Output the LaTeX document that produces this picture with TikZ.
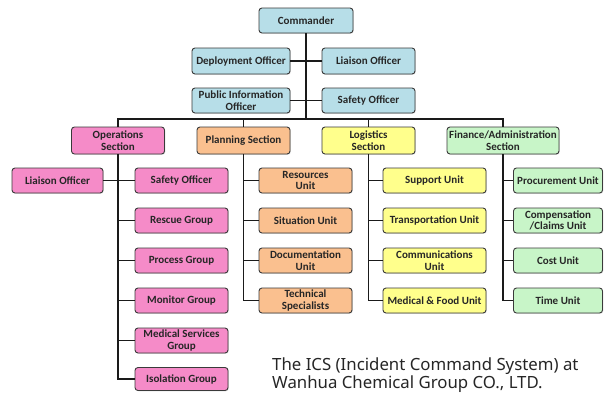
\documentclass[tikz,border=0pt]{standalone}
\usepackage{fontspec}
\newfontfamily\boxfont{Carlito}
\newfontfamily\capfont{Noto Sans}
\usetikzlibrary{shadows}
\definecolor{cteal}{HTML}{B7DEE8}
\definecolor{cpink}{HTML}{F58BC8}
\definecolor{corange}{HTML}{FAC08F}
\definecolor{cyellow}{HTML}{FFFF8C}
\definecolor{cgreen}{HTML}{C8F5C8}
\definecolor{cborder}{HTML}{3A3A3A}
\definecolor{cline}{HTML}{1A1A1A}
\tikzset{
  box/.style={draw=cborder, line width=0.9pt, rounded corners=3pt, align=center,
    font=\boxfont\bfseries\fontsize{11}{11.5}\selectfont, text=black!85, inner sep=0.5pt,
    minimum height=25pt, drop shadow={opacity=0.25, shadow xshift=0.8pt, shadow yshift=-0.8pt}},
  tealbox/.style={box, fill=cteal},
  pinkbox/.style={box, fill=cpink},
  orangebox/.style={box, fill=corange},
  yellowbox/.style={box, fill=cyellow},
  greenbox/.style={box, fill=cgreen},
  conn/.style={draw=cline, line width=1.6pt},
  captext/.style={font=\capfont\fontsize{16.8}{18}\selectfont, text=black!85, anchor=base west, inner sep=0pt}
}
\begin{document}
\begin{tikzpicture}[x=1pt, y=-1pt]
\useasboundingbox (0,0) rectangle (604,392);
\fill[white] (0,0) rectangle (604,392);
% top level
\node[tealbox, minimum width=94pt] (cmd) at (306,20.5) {Commander};
\node[tealbox, minimum width=98pt, minimum height=26pt] (dep) at (241,61) {Deployment Officer};
\node[tealbox, minimum width=93pt, minimum height=26pt] (lia) at (368.5,61) {Liaison Officer};
\node[tealbox, minimum width=98pt] (pio) at (241,100.5) {Public Information\\Officer};
\node[tealbox, minimum width=93pt] (saf) at (368.5,100.5) {Safety Officer};
\coordinate (bus) at (306,119);
% sections
\node[pinkbox, minimum width=93pt, minimum height=27pt] (ops) at (118,140.5) {Operations\\Section};
\node[orangebox, minimum width=93pt, minimum height=27pt] (pla) at (243.5,140.5) {Planning Section};
\node[yellowbox, minimum width=93pt, minimum height=27pt] (log) at (368.5,140.5) {Logistics\\Section};
\node[greenbox, minimum width=112pt, minimum height=27pt] (fin) at (503,140.5) {Finance/Administration\\Section};
% operations
\node[pinkbox, minimum width=91pt] (olia) at (57.5,180.5) {Liaison Officer};
\node[pinkbox, minimum width=93pt] (osaf) at (181.5,180.5) {Safety Officer};
\node[pinkbox, minimum width=93pt] (ores) at (181.5,220.5) {Rescue Group};
\node[pinkbox, minimum width=93pt] (opro) at (181.5,260.5) {Process Group};
\node[pinkbox, minimum width=93pt] (omon) at (181.5,300.5) {Monitor Group};
\node[pinkbox, minimum width=93pt] (omed) at (181.5,340.5) {Medical Services\\Group};
\node[pinkbox, minimum width=93pt, minimum height=23pt] (oiso) at (181.5,379) {Isolation Group};
% planning
\node[orangebox, minimum width=93pt] (pres) at (305.5,180.5) {Resources\\Unit};
\node[orangebox, minimum width=93pt] (psit) at (305.5,220.5) {Situation Unit};
\node[orangebox, minimum width=93pt] (pdoc) at (305.5,260.5) {Documentation\\Unit};
\node[orangebox, minimum width=93pt] (ptec) at (305.5,300.5) {Technical\\Specialists};
% logistics
\node[yellowbox, minimum width=103pt] (lsup) at (434.5,180.5) {Support Unit};
\node[yellowbox, minimum width=103pt] (ltra) at (434.5,220.5) {Transportation Unit};
\node[yellowbox, minimum width=103pt] (lcom) at (434.5,260.5) {Communications\\Unit};
\node[yellowbox, minimum width=103pt] (lmed) at (434.5,300.5) {Medical \& Food Unit};
% finance
\node[greenbox, minimum width=89pt] (fpro) at (558,180.5) {Procurement Unit};
\node[greenbox, minimum width=89pt] (fcom) at (558,220.5) {Compensation\\/Claims Unit};
\node[greenbox, minimum width=89pt] (fcos) at (558,260.5) {Cost Unit};
\node[greenbox, minimum width=89pt] (ftim) at (558,300.5) {Time Unit};
% connectors top
\draw[conn] (cmd.south) -- (bus);
\draw[conn] (dep.east) -- (lia.west);
\draw[conn] (pio.east) -- (saf.west);
\draw[conn] (ops.north) |- (bus) -| (fin.north);
\draw[conn] (pla.north) -- (pla.north |- bus);
\draw[conn] (log.north) -- (log.north |- bus);
% operations
\draw[conn] (ops.south) |- (oiso.west);
\draw[conn] (olia.east) -- (osaf.west);
\foreach \n in {ores,opro,omon,omed} \draw[conn] (ops.south |- \n.west) -- (\n.west);
% planning
\draw[conn] (pla.south) |- (ptec.west);
\foreach \n in {pres,psit,pdoc} \draw[conn] (pla.south |- \n.west) -- (\n.west);
% logistics
\draw[conn] (log.south) |- (lmed.west);
\foreach \n in {lsup,ltra,lcom} \draw[conn] (log.south |- \n.west) -- (\n.west);
% finance
\draw[conn] (fin.south) |- (ftim.west);
\foreach \n in {fpro,fcom,fcos} \draw[conn] (fin.south |- \n.west) -- (\n.west);
% caption
\node[captext] (cap1) at (272,370) {The ICS (Incident Command System) at};
\node[captext] (cap2) at (272,388) {Wanhua Chemical Group CO., LTD.};
\end{tikzpicture}
\end{document}
